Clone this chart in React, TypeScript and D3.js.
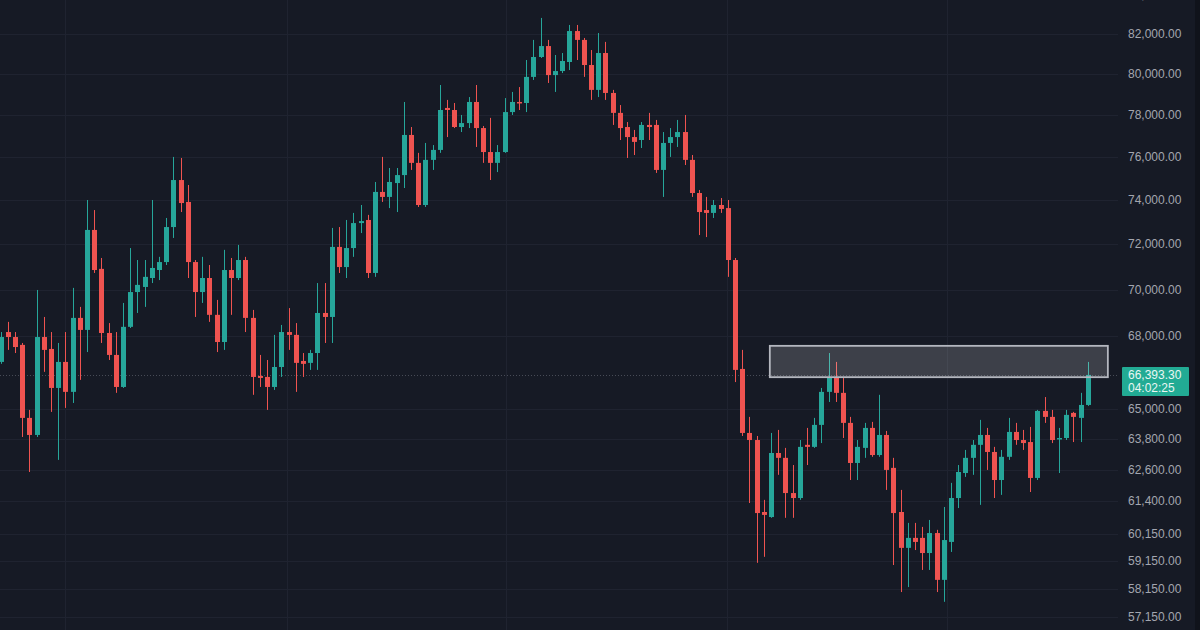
import React from 'react';
import * as d3 from 'd3';

const WIDTH = 1200;
const HEIGHT = 630;

// OHLC, one entry per candle (oldest first)
const opens = [
  66930, 68180, 67970, 67640, 64650, 63970, 67970, 67470, 65860, 66930,
  65700, 68780, 68270, 72630, 70900, 68140, 67220, 65900, 68400, 69890,
  70110, 70500, 70850, 71200, 72760, 74910, 73900, 71200, 69890, 70500,
  68910, 67760, 70850, 70500, 71290, 68780, 66350, 66310, 65900, 66720,
  68180, 68060, 66970, 66890, 67300, 68990, 68820, 71870, 70980, 71820,
  72940, 73080, 70720, 74360, 74130, 74770, 75140, 77030, 75710, 73760,
  75850, 76320, 78330, 78230, 77410, 77600, 78620, 77360, 76220, 75710,
  76220, 78130, 78620, 78570, 79850, 80840, 81390, 79940, 80140, 80590,
  82150, 81700, 80440, 79210, 81040, 79060, 78090, 77410, 76930, 76790,
  77510, 77510, 75380, 76650, 76930, 77170, 75850, 74310, 73530, 73400,
  73760, 73620, 71290, 66640, 64050, 63770, 60990, 60800, 63260, 63070,
  61710, 61520, 63580, 63500, 64370, 65700, 66270, 65660, 64450, 62870,
  63460, 64250, 63180, 63970, 62680, 60990, 59650, 60020, 60020, 59460,
  60200, 58480, 59870, 61520, 62480, 63070, 63580, 63970, 63300, 62210,
  63110, 64090, 63770, 63690, 62290, 64930, 64690, 63810, 63850, 64850,
  64650, 65170,
];
const highs = [
  68180, 68610, 68180, 67720, 64970, 69980, 68820, 68180, 67720, 68180,
  70070, 69250, 73990, 73530, 71380, 68560, 68180, 69420, 71820, 71290,
  71290, 73990, 71430, 73170, 75990, 75940, 74680, 71290, 71430, 71070,
  69550, 71740, 71380, 71960, 71430, 69120, 67220, 67010, 68060, 68480,
  69200, 68560, 67300, 67430, 70280, 70280, 72720, 72760, 73080, 73400,
  73760, 73310, 74820, 75990, 75470, 75470, 78620, 77410, 76180, 76650,
  76550, 79450, 78720, 78570, 77990, 78860, 79450, 77460, 77850, 76550,
  78810, 79110, 79350, 80690, 81700, 82820, 81700, 80940, 81040, 82460,
  82460, 81800, 81190, 82050, 81600, 79210, 78470, 77650, 77270, 77650,
  78090, 77750, 77170, 77360, 77750, 77990, 76080, 74450, 74130, 73990,
  74080, 73990, 71380, 67430, 64690, 63930, 61450, 64050, 64170, 63460,
  62790, 63770, 64250, 64650, 65860, 67300, 66930, 66270, 64690, 63770,
  64450, 64490, 65580, 64130, 63070, 61830, 60580, 60580, 60430, 60690,
  60320, 61180, 62100, 62790, 63380, 63770, 64570, 64250, 63500, 63380,
  64650, 64450, 64170, 64290, 64970, 65490, 64970, 64250, 64970, 64890,
  65660, 66930,
];
const lows = [
  66850, 67430, 67300, 63890, 62520, 63890, 66520, 64890, 62990, 65050,
  65250, 66190, 67340, 70720, 67720, 67010, 65660, 65860, 68350, 68990,
  69250, 70280, 70410, 71070, 72270, 73440, 70500, 68820, 69420, 68610,
  67340, 67430, 68910, 70410, 68180, 65580, 65900, 64970, 65780, 66310,
  67430, 65700, 66310, 66600, 66600, 67720, 67720, 70720, 70500, 71430,
  72490, 70500, 70550, 73900, 73620, 73440, 74540, 75380, 73670, 73670,
  75380, 76180, 76930, 77360, 77170, 77360, 76460, 75710, 74910, 75280,
  76180, 77990, 78230, 78130, 79700, 80790, 79550, 79110, 80040, 80190,
  80690, 79850, 78720, 78860, 78720, 77510, 76790, 75940, 76080, 76410,
  76790, 75240, 74130, 75990, 76460, 75610, 74130, 72400, 72310, 73170,
  73400, 70550, 66100, 63930, 61330, 59100, 59320, 60770, 62410, 60770,
  60770, 61450, 62790, 63460, 63650, 65290, 65290, 63850, 62210, 62210,
  63070, 63110, 63110, 61830, 59020, 58040, 58220, 59570, 58840, 58840,
  58040, 57690, 59500, 61140, 62330, 62410, 61260, 62600, 61520, 61640,
  62990, 63580, 63380, 61750, 62210, 64450, 63650, 62480, 63770, 63690,
  63690, 65130,
];
const closes = [
  67970, 67970, 67550, 64650, 63970, 67970, 67430, 65860, 66930, 65700,
  68780, 68270, 72630, 70850, 68140, 67220, 65900, 68400, 69890, 70200,
  70550, 70940, 71200, 72760, 74910, 73850, 71200, 69890, 70500, 68910,
  67760, 70850, 70500, 71290, 68780, 66310, 66270, 65900, 66720, 68180,
  68060, 66890, 66850, 67300, 68990, 68820, 71870, 70980, 71820, 72940,
  73030, 70720, 74360, 74130, 74820, 75140, 77030, 75710, 73760, 75850,
  76320, 78230, 78230, 77410, 77600, 78620, 77360, 76220, 75710, 76220,
  78130, 78620, 78570, 79850, 80840, 81390, 79940, 80140, 80640, 82150,
  81700, 80440, 79210, 81040, 79060, 78090, 77360, 76930, 76700, 77510,
  77410, 75380, 76650, 76930, 77170, 75850, 74310, 73440, 73400, 73760,
  73580, 71290, 66600, 64050, 63770, 60950, 60880, 63260, 63070, 61710,
  61520, 63500, 63500, 64370, 65700, 66270, 65660, 64450, 62870, 63500,
  64250, 63180, 63970, 62600, 60950, 59650, 60020, 59870, 59460, 60200,
  58480, 59940, 61520, 62520, 63070, 63580, 63970, 63300, 62210, 63110,
  64090, 63770, 63650, 62290, 64930, 64690, 63770, 63850, 64770, 64690,
  65170, 66393.3,
];

const priceTicks = [
  84000, 82000, 80000, 78000, 76000, 74000, 72000, 70000, 68000,
  65000, 63800, 62600, 61400, 60150, 59150, 58150, 57150,
];
// candle positions (index units) where the vertical time grid lines fall
const timeGridIdx = [8.9, 39.8, 70.2, 100.9, 131.5];

// resistance zone
const zoneStartIdx = 106.85;
const zoneEndIdx = 153.8;
const zoneHigh = 67600;
const zoneLow = 66300;

const lastPrice = 66393.3;
const countdown = '04:02:25';

const BG = '#161a25';
const UP = '#26a69a';
const DOWN = '#ef5350';
const GRID = '#1f2330';
const TEXT = '#a3a6af';
const FONT = '"Liberation Sans", Arial, sans-serif';

export default function App() {
  const plotRight = 1118;
  const x = d3.scaleLinear().domain([0, opens.length - 1]).range([0.5, 1087.7]);
  const y = d3.scaleLog().domain([82000, 58150]).range([34, 589]);
  const fmt = d3.format(',.2f');
  const bodyW = 5;

  const candles = opens.map((o, i) => ({
    o,
    h: highs[i],
    l: lows[i],
    c: closes[i],
    i,
  }));

  const lastY = y(lastPrice);

  return (
    <svg
      width={WIDTH}
      height={HEIGHT}
      style={{ position: 'fixed', left: 0, top: 0, display: 'block' }}
      xmlns="http://www.w3.org/2000/svg"
    >
      <rect x={0} y={0} width={WIDTH} height={HEIGHT} fill={BG} />
      <defs>
        <clipPath id="plot">
          <rect x={0} y={0} width={plotRight} height={HEIGHT} />
        </clipPath>
      </defs>

      {/* grid */}
      <g clipPath="url(#plot)">
        {priceTicks.map((t) => (
          <line
            key={'h' + t}
            x1={0}
            x2={plotRight}
            y1={Math.round(y(t)) + 0.5}
            y2={Math.round(y(t)) + 0.5}
            stroke={GRID}
            strokeWidth={1}
          />
        ))}
        {timeGridIdx.map((t) => (
          <line
            key={'v' + t}
            x1={Math.round(x(t)) + 0.5}
            x2={Math.round(x(t)) + 0.5}
            y1={0}
            y2={HEIGHT}
            stroke={GRID}
            strokeWidth={1}
          />
        ))}
      </g>

      {/* last price dotted line */}
      <line
        x1={0}
        x2={plotRight}
        y1={Math.round(lastY) + 0.5}
        y2={Math.round(lastY) + 0.5}
        stroke="#5d616c"
        strokeWidth={1}
        strokeDasharray="1 2"
        opacity={0.7}
      />

      {/* candles */}
      <g clipPath="url(#plot)">
        {candles.map((d) => {
          const up = d.c >= d.o;
          const col = up ? UP : DOWN;
          const cx = x(d.i);
          const yTop = y(Math.max(d.o, d.c));
          const yBot = y(Math.min(d.o, d.c));
          return (
            <g key={d.i}>
              <line
                x1={Math.round(cx) + 0.5}
                x2={Math.round(cx) + 0.5}
                y1={y(d.h)}
                y2={y(d.l)}
                stroke={col}
                strokeWidth={1}
              />
              <rect
                x={Math.round(cx) + 0.5 - bodyW / 2}
                y={yTop}
                width={bodyW}
                height={Math.max(1.5, yBot - yTop)}
                fill={col}
              />
            </g>
          );
        })}
      </g>

      {/* zone rectangle */}
      <rect
        x={x(zoneStartIdx)}
        y={y(zoneHigh)}
        width={x(zoneEndIdx) - x(zoneStartIdx)}
        height={y(zoneLow) - y(zoneHigh)}
        fill="rgba(255,255,255,0.17)"
        stroke="#b4b7bf"
        strokeWidth={1.8}
      />

      {/* price axis labels */}
      <g fontFamily={FONT} fontSize={12} fill={TEXT}>
        {priceTicks.map((t) => (
          <text key={'l' + t} x={1128} y={y(t)} dominantBaseline="central">
            {fmt(t)}
          </text>
        ))}
      </g>

      {/* last price label */}
      <rect x={1122} y={lastY - 8} width={67} height={29} fill="#22ab94" rx={1} />
      <g fontFamily={FONT} fontSize={12} fill="#e8f6f3">
        <text x={1128} y={lastY} dominantBaseline="central">
          {fmt(lastPrice)}
        </text>
        <text x={1128} y={lastY + 13} dominantBaseline="central">
          {countdown}
        </text>
      </g>

      <rect x={1195} y={0} width={5} height={HEIGHT} fill="#10131b" />
    </svg>
  );
}
